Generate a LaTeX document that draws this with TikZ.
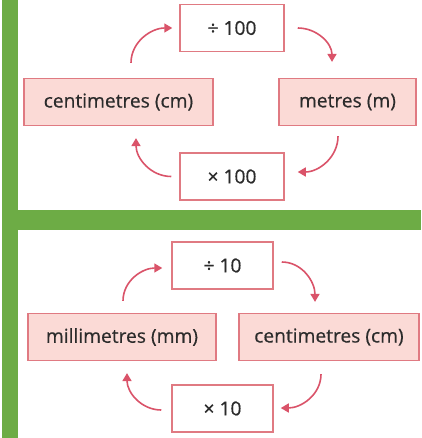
\documentclass[tikz,border=0pt]{standalone}
\usepackage{fontspec}
\setmainfont{Open Sans}
\newfontfamily\labelfam{Open Sans}[FakeBold=0.5]
\usetikzlibrary{arrows.meta}
\definecolor{bargreen}{HTML}{6DAC45}
\definecolor{boxline}{HTML}{E07A82}
\definecolor{boxfill}{HTML}{FBDAD6}
\definecolor{arrowred}{HTML}{DA5369}
\definecolor{ink}{HTML}{2B2B2B}
\newcommand\labelfont{\labelfam\fontsize{19.2}{22}\selectfont}
\tikzset{
  opbox/.style={draw=boxline, line width=1.5pt, fill=white, inner sep=0pt,
    minimum width=#1, minimum height=47pt, font=\labelfont, text=ink},
  unitbox/.style={draw=boxline, line width=1.2pt, fill=boxfill, inner sep=0pt,
    minimum width=#1, minimum height=47pt, font=\labelfont, text=ink},
  cyc/.style={draw=arrowred, line width=1.6pt, -{Triangle[width=9pt,length=8pt]}}
}
\begin{document}
\begin{tikzpicture}[x=1pt,y=-1pt]
  \useasboundingbox (0,0) rectangle (421,438);
  \fill[white] (0,0) rectangle (421,438);
  % green frame
  \fill[bargreen] (2,0) rectangle (18,438);
  \fill[bargreen] (2,210) rectangle (421,230);

  % metres and centimetres
  \node[opbox=104pt]  (div1) at (232,28)    {÷ 100};
  \node[unitbox=189pt] (cma) at (118.5,102) {centimetres (cm)};
  \node[unitbox=137pt] (m)   at (347.5,102) {metres (m)};
  \node[opbox=104pt]  (mul1) at (232,176.5) {× 100};

  \draw[cyc] ([shift={(12.5,-15)}]cma.north) to[out=90,in=180] ([xshift=-7]div1.west);
  \draw[cyc] ([xshift=13]div1.east) to[out=0,in=90] ([shift={(-15.5,-16)}]m.north);
  \draw[cyc] ([shift={(-9.5,10)}]m.south) to[out=-90,in=0] ([shift={(13,-4.5)}]mul1.east);
  \draw[cyc] ([xshift=-8]mul1.west) to[out=180,in=-90] ([shift={(17.5,12)}]cma.south);

  % millimetres and centimetres
  \node[opbox=101pt]  (div2) at (222.5,265.5) {÷ 10};
  \node[unitbox=188pt] (mm)  at (122,337)     {millimetres (mm)};
  \node[unitbox=180pt] (cmb) at (329,337)     {centimetres (cm)};
  \node[opbox=101pt]  (mul2) at (222.5,408.5) {× 10};

  \draw[cyc] ([shift={(1,-12)}]mm.north) to[out=90,in=180] ([shift={(-9,2.5)}]div2.west);
  \draw[cyc] ([shift={(8,-3.5)}]div2.east) to[out=0,in=90] ([shift={(-14,-11)}]cmb.north);
  \draw[cyc] ([shift={(-8,13)}]cmb.south) to[out=-90,in=0] ([shift={(7,-0.5)}]mul2.east);
  \draw[cyc] ([shift={(-10,1.5)}]mul2.west) to[out=180,in=-90] ([shift={(5,12)}]mm.south);
\end{tikzpicture}
\end{document}
